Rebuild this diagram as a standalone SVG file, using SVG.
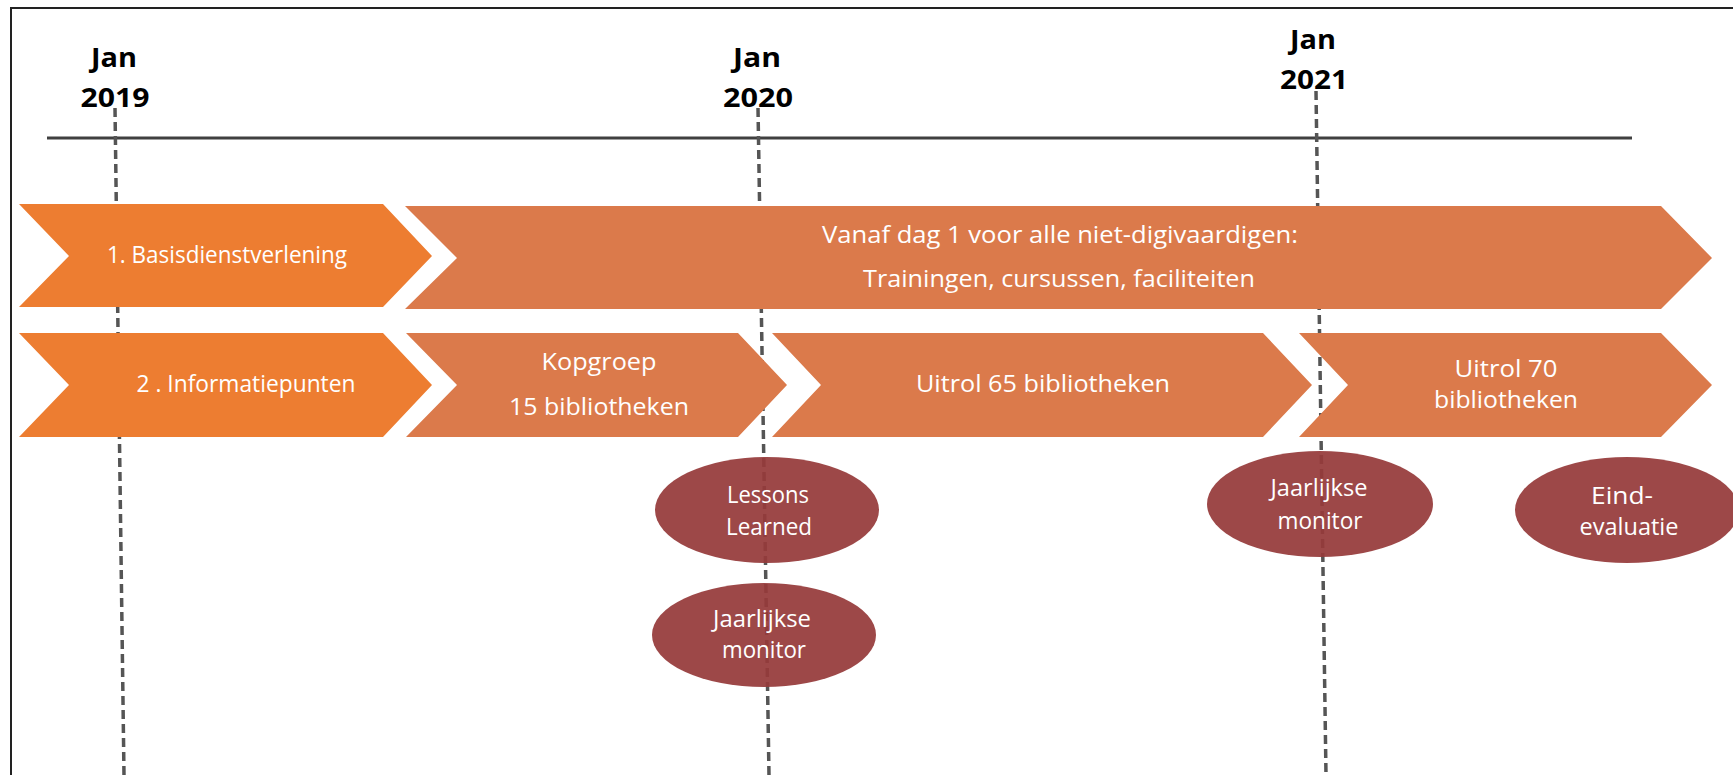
<svg xmlns="http://www.w3.org/2000/svg" width="1733" height="775" viewBox="0 0 1733 775">
  <style>
    .bright { fill: #ED7D31; }
    .muted { fill: #DB7A4B; }
    .oval { fill: #963A3A; fill-opacity: 0.93; }
    .dash { stroke: #555555; stroke-width: 3.5; stroke-dasharray: 9 5; fill: none; }
    .lbl { font-family: "Open Sans", "Liberation Sans", sans-serif; font-size: 23px; fill: #FFFFFF; text-anchor: middle; }
    .yr { font-family: "Open Sans", "Liberation Sans", sans-serif; font-size: 27px; font-weight: bold; fill: #000000; text-anchor: middle; }
  </style>
  <rect x="0" y="0" width="1733" height="775" fill="#FFFFFF"/>
  <rect x="11" y="8" width="1760" height="800" fill="none" stroke="#222222" stroke-width="2"/>

  <g id="connectors">
    <line x1="47" y1="138" x2="1632" y2="138" stroke="#404040" stroke-width="3"/>
    <line class="dash" x1="115" y1="108" x2="124" y2="775"/>
    <line class="dash" x1="758" y1="108" x2="769" y2="775"/>
    <line class="dash" x1="1316" y1="91" x2="1326" y2="775"/>
  </g>

  <g id="year-2019">
    <text class="yr" x="114" y="67" textLength="46" lengthAdjust="spacingAndGlyphs">Jan</text>
    <text class="yr" x="115" y="107" textLength="69" lengthAdjust="spacingAndGlyphs">2019</text>
  </g>
  <g id="year-2020">
    <text class="yr" x="757" y="67" textLength="48" lengthAdjust="spacingAndGlyphs">Jan</text>
    <text class="yr" x="758" y="107" textLength="70" lengthAdjust="spacingAndGlyphs">2020</text>
  </g>
  <g id="year-2021">
    <text class="yr" x="1313" y="49" textLength="46" lengthAdjust="spacingAndGlyphs">Jan</text>
    <text class="yr" x="1314" y="89" textLength="68" lengthAdjust="spacingAndGlyphs">2021</text>
  </g>

  <g id="basisdienstverlening">
    <polygon class="bright" points="19,204 383,204 432,256 383,307 19,307 69,256"/>
    <text class="lbl" x="227" y="263" font-size="22" textLength="240" lengthAdjust="spacingAndGlyphs">1. Basisdienstverlening</text>
  </g>
  <g id="vanaf-dag-1">
    <polygon class="muted" points="405,206 1661,206 1712,258 1661,309 405,309 457,258"/>
    <text class="lbl" x="1060" y="243" textLength="476" lengthAdjust="spacingAndGlyphs">Vanaf dag 1 voor alle niet-digivaardigen:</text>
    <text class="lbl" x="1059" y="287" textLength="392" lengthAdjust="spacingAndGlyphs">Trainingen, cursussen, faciliteiten</text>
  </g>

  <g id="informatiepunten">
    <polygon class="bright" points="19,333 383,333 432,385 383,437 19,437 69,385"/>
    <text class="lbl" x="246" y="392" textLength="219" lengthAdjust="spacingAndGlyphs">2 . Informatiepunten</text>
  </g>
  <g id="kopgroep">
    <polygon class="muted" points="406,333 738,333 787,385 738,437 406,437 457,385"/>
    <text class="lbl" x="599" y="370" textLength="115" lengthAdjust="spacingAndGlyphs">Kopgroep</text>
    <text class="lbl" x="599" y="415" textLength="180" lengthAdjust="spacingAndGlyphs">15 bibliotheken</text>
  </g>
  <g id="uitrol-65">
    <polygon class="muted" points="772,333 1263,333 1312,385 1263,437 772,437 821,385"/>
    <text class="lbl" x="1043" y="392" textLength="254" lengthAdjust="spacingAndGlyphs">Uitrol 65 bibliotheken</text>
  </g>
  <g id="uitrol-70">
    <polygon class="muted" points="1299,333 1661,333 1712,385 1661,437 1299,437 1348,385"/>
    <text class="lbl" x="1506" y="377" textLength="103" lengthAdjust="spacingAndGlyphs">Uitrol 70</text>
    <text class="lbl" x="1506" y="408" textLength="144" lengthAdjust="spacingAndGlyphs">bibliotheken</text>
  </g>

  <g id="lessons-learned">
    <ellipse class="oval" cx="767" cy="510" rx="112" ry="53"/>
    <text class="lbl" x="768" y="503" font-size="22" textLength="82" lengthAdjust="spacingAndGlyphs">Lessons</text>
    <text class="lbl" x="769" y="535" font-size="22" textLength="86" lengthAdjust="spacingAndGlyphs">Learned</text>
  </g>
  <g id="jaarlijkse-monitor-2020">
    <ellipse class="oval" cx="764" cy="635" rx="112" ry="52"/>
    <text class="lbl" x="762" y="627" font-size="22" textLength="98" lengthAdjust="spacingAndGlyphs">Jaarlijkse</text>
    <text class="lbl" x="764" y="658" font-size="22" textLength="84" lengthAdjust="spacingAndGlyphs">monitor</text>
  </g>
  <g id="jaarlijkse-monitor-2021">
    <ellipse class="oval" cx="1320" cy="504" rx="113" ry="53"/>
    <text class="lbl" x="1319" y="496" font-size="22" textLength="97" lengthAdjust="spacingAndGlyphs">Jaarlijkse</text>
    <text class="lbl" x="1320" y="529" font-size="22" textLength="85" lengthAdjust="spacingAndGlyphs">monitor</text>
  </g>
  <g id="eind-evaluatie">
    <ellipse class="oval" cx="1627" cy="510" rx="112" ry="53"/>
    <text class="lbl" x="1622" y="504" font-size="22" textLength="62" lengthAdjust="spacingAndGlyphs">Eind-</text>
    <text class="lbl" x="1629" y="535" font-size="22" textLength="99" lengthAdjust="spacingAndGlyphs">evaluatie</text>
  </g>
</svg>
